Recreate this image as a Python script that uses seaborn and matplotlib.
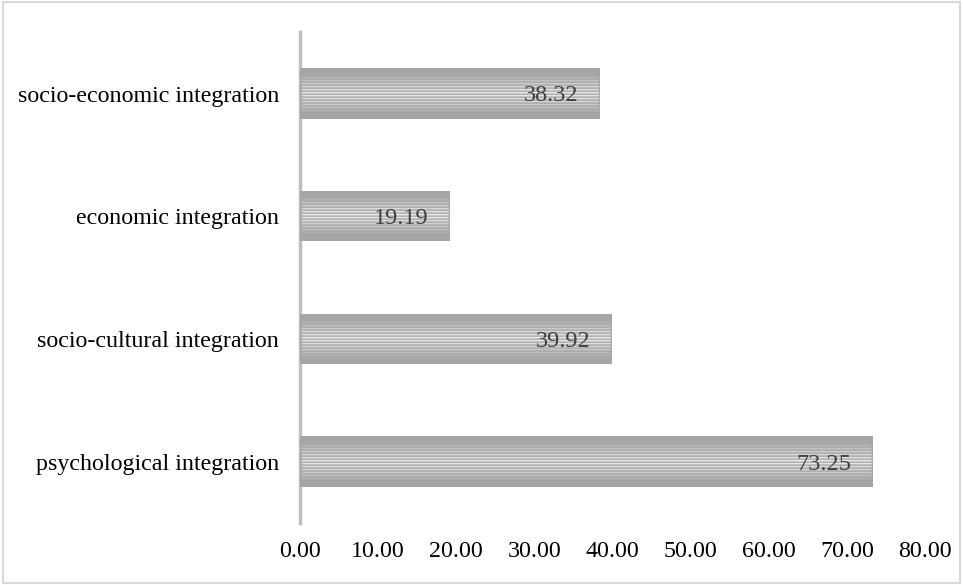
import numpy as np
import pandas as pd
import matplotlib
matplotlib.use("Agg")
import matplotlib.pyplot as plt
import seaborn as sns
from matplotlib.patches import Rectangle

categories = ["socio-economic integration", "economic integration",
              "socio-cultural integration", "psychological integration"]
values = [38.32, 19.19, 39.92, 73.25]
tick_values = [0, 10, 20, 30, 40, 50, 60, 70, 80]
tick_labels = ["0.00", "10.00", "20.00", "30.00", "40.00", "50.00", "60.00", "70.00", "80.00"]

sns.set_theme(style="white")
plt.rcParams["font.family"] = ["Liberation Serif", "DejaVu Serif"]

df = pd.DataFrame({"category": categories, "value": values})

fig = plt.figure(figsize=(9.63, 5.85), dpi=100)
ax = fig.add_axes([0.3115, 0.106, 0.649, 0.839])

sns.barplot(data=df, x="value", y="category", orient="h", color="#a6a6a6",
            saturation=1, width=0.41, ax=ax)

ax.set_xlim(0, 80)
ax.set_ylim(3.5, -0.5)

# striped gradient fill inside each bar
px_per_unit = 78.1
for patch, v in zip(ax.patches, values):
    x0 = patch.get_x(); w = patch.get_width()
    y0 = patch.get_y(); h = patch.get_height()
    ncols = max(int(w * px_per_unit), 2)
    nrows = 51
    cols = np.arange(ncols)
    fade_l = np.clip((cols - 6) / 22.0, 0, 1)
    fade_r = np.clip((ncols - 1 - cols - 2) / 18.0, 0, 1)
    fade = np.minimum(fade_l, fade_r)
    base = 0.65
    rows = np.arange(nrows)
    center = (nrows - 1) / 2
    env = np.clip(1 - np.abs(rows - center) / 19.0, 0, 1) ** 0.8
    stripe = np.empty(nrows)
    for r in rows:
        if r % 3 == 0:
            amp = 0.28
        elif r % 3 == 1:
            amp = 0.12
        else:
            amp = 0.06
        stripe[r] = base + env[r] * amp
    img = base + fade[None, :] * (stripe[:, None] - base)
    rgb = np.dstack([img, img, img])
    im = ax.imshow(rgb, extent=[x0, x0 + w, y0 + h, y0], aspect="auto",
                   interpolation="bilinear", zorder=3)
    im.set_clip_path(patch)
    ax.text(x0 + w - 2.7, y0 + h / 2 + 0.02, f"{v:.2f}", ha="right", va="center",
            fontsize=17.5, color="#404040", zorder=4)

ax.set_xlim(0, 80)
ax.set_ylim(3.5, -0.5)
ax.set_xticks(tick_values)
ax.set_xticklabels(tick_labels)
ax.set_xlabel("")
ax.set_ylabel("")
ax.tick_params(axis="x", length=0, pad=13, labelsize=17.3, colors="black")
ax.tick_params(axis="y", length=0, pad=15, labelsize=17.3, colors="black")
for s in ["top", "right", "bottom"]:
    ax.spines[s].set_visible(False)
ax.spines["left"].set_color("#bfbfbf")
ax.spines["left"].set_linewidth(2.5)
ax.grid(False)

fig.patches.append(Rectangle((0.003, 0.004), 0.994, 0.992, transform=fig.transFigure,
                             fill=False, edgecolor="#d9d9d9", linewidth=1.5))

fig.savefig("out.png", dpi=100)
